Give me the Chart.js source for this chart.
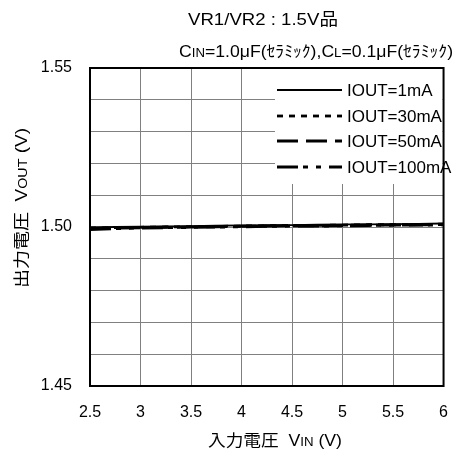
<!DOCTYPE html>
<html>
<head>
<meta charset="utf-8">
<script src="https://cdn.jsdelivr.net/npm/chart.js@4.4.1/dist/chart.umd.min.js"></script>
<style>
  html, body { margin: 0; padding: 0; background: #fff; }
  #wrap { width: 465px; height: 452px; }
</style>
</head>
<body>
<div id="wrap"><canvas id="chart" width="465" height="452"></canvas></div>
<script>
// input voltage sweep (V)
const vin = [2.5, 2.75, 3.0, 3.25, 3.5, 3.75, 4.0, 4.25, 4.5, 4.75, 5.0, 5.25, 5.5, 5.75, 6.0];

// output voltage per load current (V)
const vout1mA   = [1.4999, 1.5000, 1.5001, 1.5002, 1.5003, 1.5004, 1.5005, 1.5006, 1.5006, 1.5007, 1.5008, 1.5008, 1.5009, 1.5010, 1.5011];
const vout30mA  = [1.4997, 1.4998, 1.4999, 1.5000, 1.5001, 1.5002, 1.5003, 1.5004, 1.5005, 1.5005, 1.5006, 1.5007, 1.5007, 1.5008, 1.5009];
const vout50mA  = [1.4996, 1.4997, 1.4998, 1.4999, 1.5000, 1.5001, 1.5002, 1.5003, 1.5004, 1.5004, 1.5005, 1.5006, 1.5006, 1.5007, 1.5008];
const vout100mA = [1.4992, 1.4995, 1.4997, 1.4998, 1.4999, 1.5000, 1.5001, 1.5002, 1.5003, 1.5003, 1.5004, 1.5005, 1.5006, 1.5006, 1.5007];

const seriesNames = ['IOUT=1mA', 'IOUT=30mA', 'IOUT=50mA', 'IOUT=100mA'];
const dashes = [[], [6, 6], [21, 8], [21, 5, 5, 8, 5, 8]];
const widths = [1.8, 2.8, 3, 3];

const FONT = '"Liberation Sans", Arial, "Noto Sans CJK JP", sans-serif';

// draw a string made of runs with different sizes (for subscripts),
// squeezed or stretched to the given width
function drawRuns(ctx, runs, x, y, align, width) {
    let total = 0;
    runs.forEach(r => {
        ctx.font = r[1] + 'px ' + FONT;
        total += ctx.measureText(r[0]).width;
    });
    const sx = width ? width / total : 1;
    const w = total * sx;
    let left = x;
    if (align === 'center') left = x - w / 2;
    if (align === 'right') left = x - w;
    ctx.save();
    ctx.translate(left, y);
    ctx.scale(sx, 1);
    ctx.textAlign = 'left';
    ctx.textBaseline = 'alphabetic';
    let cx = 0;
    runs.forEach(r => {
        ctx.font = r[1] + 'px ' + FONT;
        ctx.fillText(r[0], cx, 0);
        cx += ctx.measureText(r[0]).width;
    });
    ctx.restore();
}

const textPlugin = {
    id: 'texts',
    afterDraw(chart) {
        const ctx = chart.ctx;
        const a = chart.chartArea;
        ctx.save();
        // frame around the plot
        ctx.strokeStyle = '#000';
        ctx.lineWidth = 2;
        ctx.strokeRect(a.left, a.top, a.right - a.left, a.bottom - a.top);

        ctx.fillStyle = '#000';
        drawRuns(ctx, [['VR1/VR2 : 1.5V品', 17]], 263, 25, 'center', 150);
        drawRuns(ctx, [['C', 16], ['IN', 12], ['=1.0μF(ｾﾗﾐｯｸ),C', 16], ['L', 12], ['=0.1μF(ｾﾗﾐｯｸ)', 16]], 453, 57, 'right', 274);
        drawRuns(ctx, [['入力電圧  V', 16], ['IN', 12], [' (V)', 16]], 275, 446, 'center', 134);
        ctx.translate(27, 208);
        ctx.rotate(-Math.PI / 2);
        drawRuns(ctx, [['出力電圧  V', 16], ['OUT', 12], [' (V)', 16]], 0, 0, 'center', 160);
        ctx.restore();
    }
};

// legend box in the upper right of the plot
const legendPlugin = {
    id: 'legendBox',
    afterDatasetsDraw(chart) {
        const ctx = chart.ctx;
        const a = chart.chartArea;
        ctx.save();
        ctx.fillStyle = '#fff';
        ctx.fillRect(275, a.top + 1, a.right - 276, 183 - a.top);
        const rows = [90, 116, 141, 167];
        seriesNames.forEach((name, i) => {
            ctx.strokeStyle = '#000';
            ctx.lineWidth = widths[i];
            ctx.setLineDash(dashes[i]);
            ctx.beginPath();
            ctx.moveTo(277, rows[i]);
            ctx.lineTo(342, rows[i]);
            ctx.stroke();
            ctx.setLineDash([]);
            ctx.fillStyle = '#000';
            ctx.font = '17px ' + FONT;
            ctx.textAlign = 'left';
            ctx.textBaseline = 'middle';
            ctx.fillText(name, 347, rows[i] + 1);
        });
        ctx.restore();
    }
};

const allValues = [vout1mA, vout30mA, vout50mA, vout100mA];

new Chart(document.getElementById('chart'), {
    type: 'line',
    data: {
        datasets: allValues.map((vals, i) => ({
            label: seriesNames[i],
            data: vin.map((v, j) => ({ x: v, y: vals[j] })),
            borderColor: '#000',
            borderWidth: widths[i],
            borderDash: dashes[i],
            pointRadius: 0,
            tension: 0,
            fill: false,
        })),
    },
    options: {
        responsive: false,
        animation: false,
        layout: { padding: { top: 68, right: 8, left: 0, bottom: 0 } },
        plugins: {
            legend: { display: false },
            tooltip: { enabled: false },
        },
        scales: {
            x: {
                type: 'linear',
                min: 2.5,
                max: 6,
                afterFit(scale) { scale.height = 66; },
                ticks: {
                    stepSize: 0.5,
                    padding: 17,
                    color: '#000',
                    font: { family: FONT, size: 16 },
                    callback: (v) => String(Math.round(v * 10) / 10),
                },
                grid: { color: '#808080', lineWidth: 1, drawTicks: false },
                border: { color: '#000', width: 2 },
            },
            y: {
                min: 1.45,
                max: 1.55,
                afterFit(scale) { scale.width = 90; },
                ticks: {
                    stepSize: 0.005,
                    padding: 18,
                    color: '#000',
                    font: { family: FONT, size: 16 },
                    callback: (v) => {
                        const k = Math.round(v * 1000);
                        return k % 50 === 0 ? (k / 1000).toFixed(2) : '';
                    },
                },
                grid: { color: '#808080', lineWidth: 1, drawTicks: false },
                border: { color: '#000', width: 2 },
            },
        },
    },
    plugins: [legendPlugin, textPlugin],
});
</script>
</body>
</html>
